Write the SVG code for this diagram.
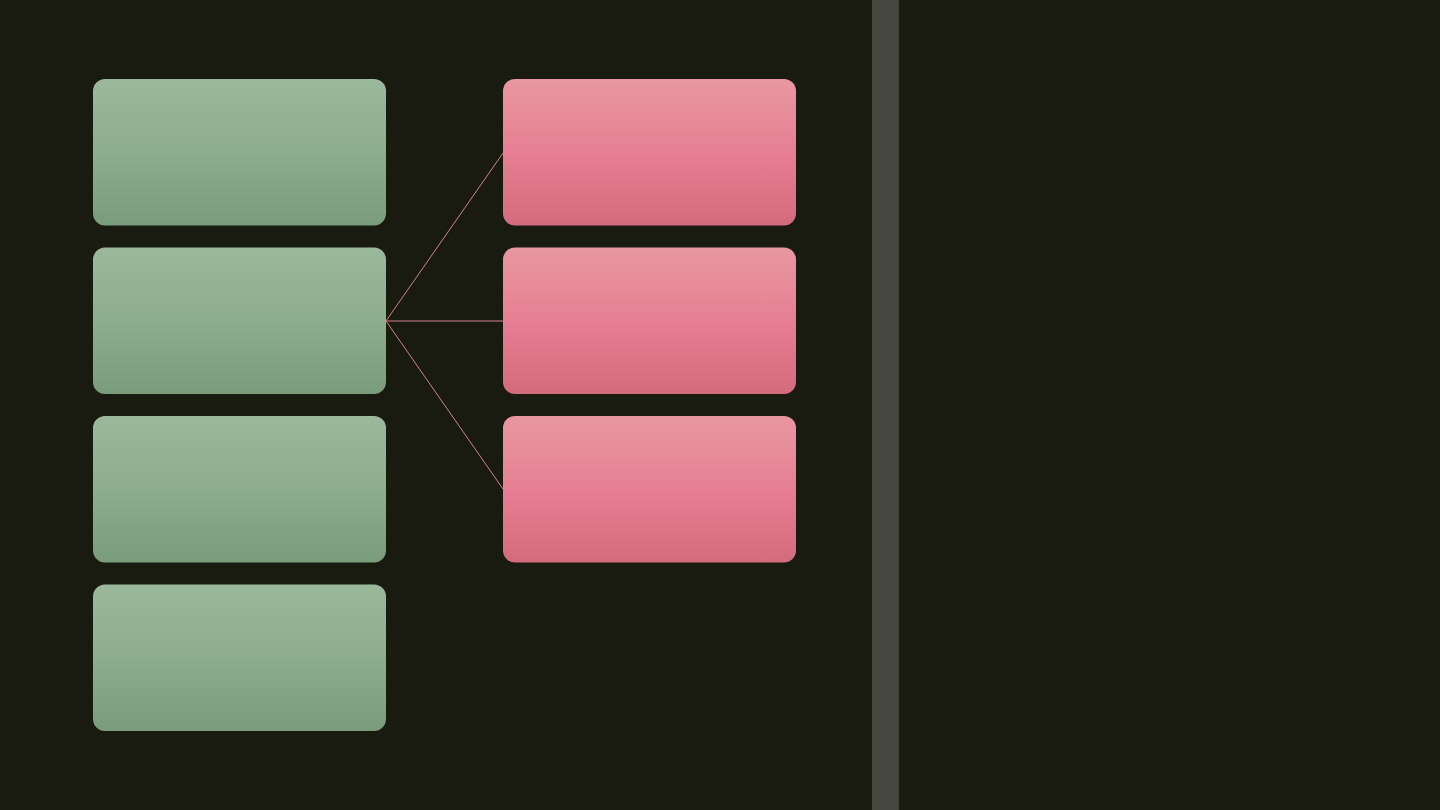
<svg xmlns="http://www.w3.org/2000/svg" width="1440" height="810" viewBox="0 0 1440 810">
  <defs>
    <linearGradient id="gGreen" x1="0" y1="0" x2="0" y2="1">
      <stop offset="0" stop-color="#9bb89b"/>
      <stop offset="0.5" stop-color="#8dae8d"/>
      <stop offset="1" stop-color="#7a9c7b"/>
    </linearGradient>
    <linearGradient id="gPink" x1="0" y1="0" x2="0" y2="1">
      <stop offset="0" stop-color="#e897a2"/>
      <stop offset="0.5" stop-color="#e67f93"/>
      <stop offset="1" stop-color="#d26b7d"/>
    </linearGradient>
    <style>
      .green { fill: url(#gGreen); }
      .pink { fill: url(#gPink); }
      .conn { stroke: #d4808d; stroke-width: 1; fill: none; }
    </style>
  </defs>
  <rect x="0" y="0" width="1440" height="810" fill="#1a1b10"/>
  <rect id="divider" x="872" y="0" width="27" height="810" fill="#45463e"/>

  <g id="connectors">
    <line class="conn" x1="386" y1="321" x2="503" y2="153"/>
    <line class="conn" x1="386" y1="321" x2="503" y2="321"/>
    <line class="conn" x1="386" y1="321" x2="503" y2="489"/>
  </g>

  <g id="left1"><rect class="green" x="93" y="79" width="293" height="146.5" rx="12"/></g>
  <g id="left2"><rect class="green" x="93" y="247.5" width="293" height="146.5" rx="12"/></g>
  <g id="left3"><rect class="green" x="93" y="416" width="293" height="146.5" rx="12"/></g>
  <g id="left4"><rect class="green" x="93" y="584.5" width="293" height="146.5" rx="12"/></g>

  <g id="right1"><rect class="pink" x="503" y="79" width="293" height="146.5" rx="12"/></g>
  <g id="right2"><rect class="pink" x="503" y="247.5" width="293" height="146.5" rx="12"/></g>
  <g id="right3"><rect class="pink" x="503" y="416" width="293" height="146.5" rx="12"/></g>
</svg>
